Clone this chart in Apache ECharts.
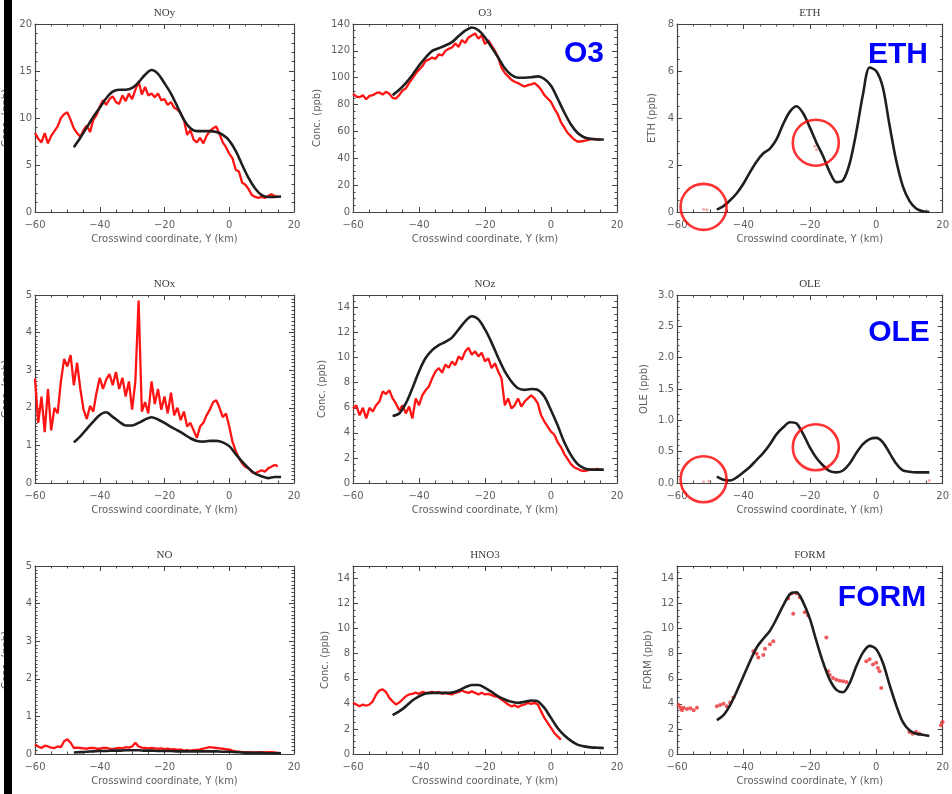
<!DOCTYPE html>
<html>
<head>
<meta charset="utf-8">
<script src="https://cdn.jsdelivr.net/npm/echarts@6/dist/echarts.min.js"></script>
<style>
html,body{margin:0;padding:0;background:#fff}
#chart{width:952px;height:794px}
</style>
</head>
<body>
<div id="chart"></div>
<script>
// Crosswind sample positions (km)
const OBS_KM = [-60,-59,-58,-57,-56,-55,-54,-53,-52,-51,
  -50,-49,-48,-47,-46,-45,-44,-43,-42,-41,
  -40,-39,-38,-37,-36,-35,-34,-33,-32,-31,
  -30,-29,-28,-27,-26,-25,-24,-23,-22,-21,
  -20,-19,-18,-17,-16,-15,-14,-13,-12,-11,
  -10,-9,-8,-7,-6,-5,-4,-3,-2,-1,
  0,1,2,3,4,5,6,7,8,9,
  10,11,12,13,14,15];
const MODEL_KM = [-48,-46,-44,-42,-40,-38,-36,-34,-32,-30,-28,-26,-24,-22,-20,-18,-16,
  -14,-12,-10,-8,-6,-4,-2,0,2,4,6,8,10,12,14,16];

// Aircraft observations (ppb)
const NOY_OBS = [8.4,7.8,7.4,8.4,7.3,8.1,8.6,9.1,10.0,10.4,
  10.6,9.8,8.9,8.4,8.0,8.7,9.2,8.5,9.8,10.3,
  11.2,11.9,11.4,12.0,12.3,11.7,11.5,12.4,11.8,12.6,
  12.0,13.0,13.9,12.5,13.3,12.4,12.6,12.2,12.6,11.9,
  12.0,11.4,11.7,11.1,10.9,10.5,9.8,8.2,8.7,7.7,
  7.4,7.9,7.3,8.1,8.6,8.9,9.1,8.3,7.4,6.9,
  6.2,5.7,4.5,4.3,3.1,2.9,2.4,1.8,1.6,1.5,
  1.6,1.5,1.7,1.9,1.7,1.6];
const O3_OBS = [88,86,85.5,87,84,86.5,87,88.5,89,87.5,
  89.5,88,85,84.5,87,90.5,92,96,99.5,103,
  106,108.5,112.5,113.5,115,114,117.5,116.5,120,121.5,
  122.5,125.5,123,128,126,130,131.5,133,129,131.5,
  125,128,124,120,115,107.5,103.5,101,98.5,97,
  96,94.5,93.5,94.5,95,96,94,91,87,84.5,
  82,77,73,67,63,59,56.5,54,52.5,52.5,
  53,53.5,54,54.5,54,54];
const NOX_OBS = [2.78,1.6,2.3,1.35,2.5,1.4,2.0,1.85,2.7,3.3,
  3.1,3.4,2.6,3.2,2.5,1.95,1.7,2.05,1.9,2.4,
  2.8,2.5,2.75,2.9,2.6,2.95,2.5,2.8,2.3,2.7,
  1.95,2.7,4.85,1.9,2.15,1.85,2.7,2.1,2.5,1.95,
  2.3,1.85,2.4,1.8,2.0,1.67,1.9,1.5,1.6,1.4,
  1.2,1.5,1.6,1.8,1.95,2.15,2.2,2.0,1.75,1.85,
  1.5,1.1,0.85,0.66,0.52,0.43,0.39,0.29,0.26,0.3,
  0.34,0.3,0.39,0.43,0.48,0.45];
const NOZ_OBS = [5.95,6.2,5.4,6.0,5.15,6.0,5.7,6.2,6.5,7.3,
  7.1,7.4,6.75,6.35,5.8,6.2,5.55,6.1,5.15,6.75,
  6.2,7.0,7.4,7.7,8.36,8.9,9.17,8.8,9.44,9.2,
  9.7,9.4,10.1,9.85,10.5,10.8,10.24,10.5,10.1,10.4,
  9.7,9.95,9.17,9.55,8.9,8.36,6.2,6.75,5.95,6.2,
  6.75,6.1,6.5,6.75,7.0,6.75,6.35,5.4,4.9,4.5,
  4.1,3.85,3.27,2.87,2.33,1.93,1.53,1.26,1.13,1.0,
  0.95,1.0,1.07,1.07,1.13,1.07];
const NO_OBS = [0.25,0.2,0.16,0.22,0.2,0.17,0.16,0.2,0.18,0.34,
  0.39,0.3,0.16,0.17,0.16,0.15,0.14,0.16,0.16,0.14,
  0.14,0.16,0.16,0.14,0.13,0.15,0.16,0.15,0.18,0.17,
  0.2,0.3,0.2,0.17,0.16,0.15,0.16,0.15,0.14,0.15,
  0.13,0.14,0.12,0.13,0.11,0.12,0.09,0.1,0.09,0.1,
  0.11,0.12,0.14,0.16,0.18,0.17,0.16,0.15,0.14,0.12,
  0.12,0.09,0.07,0.06,0.05,0.05,0.05,0.04,0.04,0.05,
  0.05,0.04,0.05,0.05,0.04,0.03];
const HNO3_OBS = [4.08,3.95,3.8,3.95,3.85,3.95,4.2,4.75,5.07,5.15,
  4.95,4.48,4.2,3.95,4.1,4.35,4.6,4.75,4.8,4.9,
  4.8,4.95,4.88,4.9,4.95,4.88,4.95,4.8,4.88,4.8,
  4.75,4.88,4.95,5.07,4.95,4.88,5.0,4.88,4.75,4.88,
  4.75,4.8,4.7,4.6,4.55,4.35,4.16,3.95,3.8,3.88,
  3.73,3.88,3.95,4.08,4.0,4.08,3.95,3.4,2.88,2.48,
  2.08,1.68,1.41,1.15,null,null,null,null,null,null,
  null,null,null,null,null,null];
// Sparse canister samples [km, ppb]
const ETH_OBS = [[-52,0.12],[-51,0.1],[-18.5,2.8],[-18,2.65],[15,0.03]];
const OLE_OBS = [[-52,0.02],[-50.5,0.03],[16,0.04]];
const FORM_OBS = [[-59.5,3.9],[-59,3.7],[-58.5,3.5],[-58,3.7],[-57,3.6],[-56,3.65],[-55,3.5],[-54,3.7],
  [-48,3.8],[-47,3.9],[-46,4.0],[-45,3.8],[-44,4.1],[-43,4.5],
  [-37,8.2],[-36,8.0],[-35.5,7.7],[-34,7.9],[-33.5,8.4],[-32,8.76],[-31,9.0],
  [-26.5,12.4],[-25.5,12.8],[-25,11.2],[-24,12.8],[-23,12.5],[-21.5,11.3],[-20.5,11.05],
  [-15,9.3],[-14.5,6.6],[-14,6.3],[-13,6.06],[-12,5.93],[-11,5.85],[-10,5.8],[-9,5.74],
  [-3,7.4],[-2,7.55],[-1,7.14],[0,7.28],[0.5,6.87],[1,6.6],[1.5,5.26],
  [10,1.75],[11,1.62],[12,1.75],[13,1.62],[19.5,2.3],[20,2.56]];

// Plume model profiles (ppb)
const NOY_MODEL = [6.9,7.9,9.0,10.1,11.1,12.1,12.8,13.0,13.0,13.2,13.8,14.6,15.1,14.7,13.7,12.6,11.2,
  9.8,8.9,8.6,8.6,8.6,8.5,8.2,7.6,6.5,5.0,3.6,2.5,1.8,1.6,1.6,1.65];
const O3_MODEL = [87,91,96,102,109,115,120,122,124,126.5,131,135,137.4,135.4,130,122.6,115,
  107,102,100,100,100.3,101,99,94,84.5,74.3,65.4,59,55.7,54.5,54,54];
const ETH_MODEL = [0.1,0.25,0.5,0.8,1.2,1.7,2.15,2.5,2.7,3.1,3.75,4.27,4.5,4.2,3.6,2.95,2.37,
  1.7,1.27,1.35,2.07,3.4,5.0,6.15,6.0,5.3,3.7,2.2,1.1,0.47,0.15,0.03,0];
const NOX_MODEL = [1.08,1.24,1.44,1.63,1.81,1.88,1.76,1.63,1.53,1.53,1.6,1.69,1.75,1.69,1.6,1.49,1.4,
  1.3,1.19,1.12,1.1,1.12,1.12,1.08,0.98,0.77,0.57,0.39,0.25,0.18,0.13,0.16,0.16];
const NOZ_MODEL = [5.35,5.55,6.35,7.56,8.9,9.97,10.6,11.0,11.26,11.6,12.25,12.9,13.3,13.05,12.25,11.2,10.0,
  8.9,8.1,7.56,7.43,7.5,7.43,6.9,5.8,4.6,3.27,2.25,1.53,1.18,1.07,1.07,1.07];
const OLE_MODEL = [0.1,0.05,0.04,0.09,0.17,0.26,0.37,0.48,0.62,0.78,0.89,0.97,0.95,0.78,0.57,0.4,0.28,
  0.19,0.17,0.2,0.31,0.48,0.62,0.7,0.72,0.65,0.48,0.31,0.2,0.18,0.17,0.17,0.17];
const NO_MODEL = [0.04,0.05,0.06,0.07,0.08,0.08,0.09,0.09,0.1,0.1,0.1,0.09,0.09,0.08,0.08,0.08,0.07,
  0.07,0.07,0.07,0.07,0.07,0.07,0.06,0.06,0.05,0.04,0.03,0.03,0.03,0.02,0.02,0.02];
const HNO3_MODEL = [3.1,3.4,3.8,4.27,4.6,4.83,4.88,4.88,4.88,4.9,5.07,5.33,5.5,5.5,5.28,4.96,4.6,
  4.35,4.16,4.08,4.16,4.27,4.2,3.68,2.88,2.08,1.5,1.07,0.75,0.61,0.53,0.5,0.48];
const FORM_MODEL = [2.7,3.1,3.9,5.0,6.2,7.4,8.5,9.2,9.84,10.8,11.86,12.75,12.9,12.1,10.8,9.0,7.3,
  5.93,5.12,4.93,5.66,7.0,8.09,8.63,8.36,7.28,5.53,3.9,2.56,1.89,1.62,1.54,1.43];

// Highlighted regions [km, ppb]
const ETH_RINGS = [[-52,0.22],[-18.2,2.95]];
const OLE_RINGS = [[-52,0.06],[-18.2,0.57]];

// Axis ticks
const X_MIN = -60, X_MAX = 20, X_STEP = 20;

const PANELS = [
  {title:'NOy', yName:'Conc. (ppb)', yMax:20, yStep:5, yMinor:5, obs:NOY_OBS, model:NOY_MODEL},
  {title:'O3', yName:'Conc. (ppb)', yMax:140, yStep:20, yMinor:4, obs:O3_OBS, model:O3_MODEL, tag:'O3'},
  {title:'ETH', yName:'ETH (ppb)', yMax:8, yStep:2, yMinor:4, dots:ETH_OBS, model:ETH_MODEL, rings:ETH_RINGS, tag:'ETH'},
  {title:'NOx', yName:'Conc. (ppb)', yMax:5, yStep:1, yMinor:10, obs:NOX_OBS, model:NOX_MODEL},
  {title:'NOz', yName:'Conc. (ppb)', yMax:15, yStep:2, yMinor:4, obs:NOZ_OBS, model:NOZ_MODEL},
  {title:'OLE', yName:'OLE (ppb)', yMax:3, yStep:0.5, yMinor:5, dots:OLE_OBS, model:OLE_MODEL, rings:OLE_RINGS, tag:'OLE', dec:1},
  {title:'NO', yName:'Conc. (ppb)', yMax:5, yStep:1, yMinor:10, obs:NO_OBS, model:NO_MODEL},
  {title:'HNO3', yName:'Conc. (ppb)', yMax:15, yStep:2, yMinor:4, obs:HNO3_OBS, model:HNO3_MODEL},
  {title:'FORM', yName:'FORM (ppb)', yMax:15, yStep:2, yMinor:4, dots:FORM_OBS, model:FORM_MODEL, tag:'FORM', bigDots:true}
];

// Layout
const COL_LEFT = [31, 353, 677];
const COL_WIDTH = [263, 264, 266];
const ROW_TOP = [24, 295, 566];
const ROW_HEIGHT = 188;
const Y_NAME_GAP = [24, 31, 20, 24, 26, 28, 24, 23, 24];
const TAG_POS = {O3:[584,54], ETH:[898,55], OLE:[899,333], FORM:[882,598]};

const INK = '#454545';
const TEXT = '#5f5f5f';
const pairs = (xs, ys) => xs.map((x, i) => [x, ys[i]]);
const fmtX = v => (v < 0 ? '\u2212' + Math.abs(v) : String(v));

const grids = [], xAxes = [], yAxes = [], series = [], graphics = [];

PANELS.forEach((p, i) => {
  const col = i % 3, row = Math.floor(i / 3);
  grids.push({left: COL_LEFT[col], top: ROW_TOP[row], width: COL_WIDTH[col], height: ROW_HEIGHT});
  const line = {show: true, onZero: false, lineStyle: {color: INK, width: 1.2}};
  const tick = {show: true, inside: true, length: 5, lineStyle: {color: INK, width: 1}};
  const xBase = {
    type: 'value', gridIndex: i, min: X_MIN, max: X_MAX, interval: X_STEP,
    axisLine: line, axisTick: tick,
    minorTick: {show: true, splitNumber: 4, length: 2.5, lineStyle: {color: INK, width: 1}},
    splitLine: {show: false}, minorSplitLine: {show: false}
  };
  xAxes.push(Object.assign({}, xBase, {
    position: 'bottom',
    axisLabel: {show: true, margin: 8, color: TEXT, fontFamily: 'DejaVu Sans', fontSize: 10, formatter: fmtX},
    name: 'Crosswind coordinate, Y (km)', nameLocation: 'middle', nameGap: 22,
    nameTextStyle: {color: TEXT, fontFamily: 'DejaVu Sans', fontSize: 10}
  }));
  xAxes.push(Object.assign({}, xBase, {
    position: 'top', axisLabel: {show: false},
    name: p.title, nameLocation: 'middle', nameGap: 5,
    nameTextStyle: {color: '#3a3a3a', fontFamily: 'Liberation Serif', fontSize: 11}
  }));
  const yBase = {
    type: 'value', gridIndex: i, min: 0, max: p.yMax, interval: p.yStep,
    axisLine: line, axisTick: tick,
    minorTick: {show: true, splitNumber: p.yMinor, length: 2.5, lineStyle: {color: INK, width: 1}},
    splitLine: {show: false}, minorSplitLine: {show: false}
  };
  yAxes.push(Object.assign({}, yBase, {
    position: 'left',
    axisLabel: {show: true, margin: 3, color: TEXT, fontFamily: 'DejaVu Sans', fontSize: 10,
      showMaxLabel: p.yMax % p.yStep === 0,
      formatter: v => (p.dec ? v.toFixed(p.dec) : String(v))},
    name: p.yName, nameLocation: 'middle', nameGap: Y_NAME_GAP[i],
    nameTextStyle: {color: TEXT, fontFamily: 'DejaVu Sans', fontSize: 10}
  }));
  yAxes.push(Object.assign({}, yBase, {position: 'right', axisLabel: {show: false}}));

  const ax = {xAxisIndex: 2 * i, yAxisIndex: 2 * i};
  if (p.obs) {
    series.push(Object.assign({
      type: 'line', data: pairs(OBS_KM, p.obs), showSymbol: false, connectNulls: false,
      lineStyle: {color: '#ff1414', width: 2.3}, z: 2, silent: true
    }, ax));
  }
  if (p.dots) {
    series.push(Object.assign({
      type: 'scatter', data: p.dots, symbol: 'circle',
      symbolSize: p.bigDots ? 4 : 3,
      itemStyle: {color: p.bigDots ? '#ec3b3b' : '#f2a2a2', opacity: p.bigDots ? 0.85 : 0.9},
      z: 2, silent: true, clip: false
    }, ax));
  }
  series.push(Object.assign({
    type: 'line', data: pairs(MODEL_KM, p.model), showSymbol: false, smooth: 0.3,
    lineStyle: {color: '#1f1f1f', width: 2.6}, z: 3, silent: true
  }, ax));
  if (p.rings) {
    series.push(Object.assign({
      type: 'scatter', data: p.rings, symbol: 'circle', symbolSize: 46,
      itemStyle: {color: 'rgba(0,0,0,0)', borderColor: '#ff0000', borderWidth: 2.6},
      z: 5, silent: true, clip: false
    }, ax));
  }
  if (p.tag) {
    const [tx, ty] = TAG_POS[p.tag];
    graphics.push({type: 'text', x: tx, y: ty, z: 10, style: {
      text: p.tag, fill: '#0000ff', font: 'bold 30px "Liberation Sans", Arial, sans-serif',
      align: 'center', verticalAlign: 'middle'}});
  }
});

// dark strip along the left edge
graphics.push({type: 'rect', shape: {x: 4, y: 0, width: 8, height: 794}, style: {fill: '#000'}, z: 20});

const chart = echarts.init(document.getElementById('chart'), null, {renderer: 'canvas'});
chart.setOption({
  animation: false,
  backgroundColor: '#ffffff',
  grid: grids, xAxis: xAxes, yAxis: yAxes, series: series, graphic: graphics
});
</script>
</body>
</html>
